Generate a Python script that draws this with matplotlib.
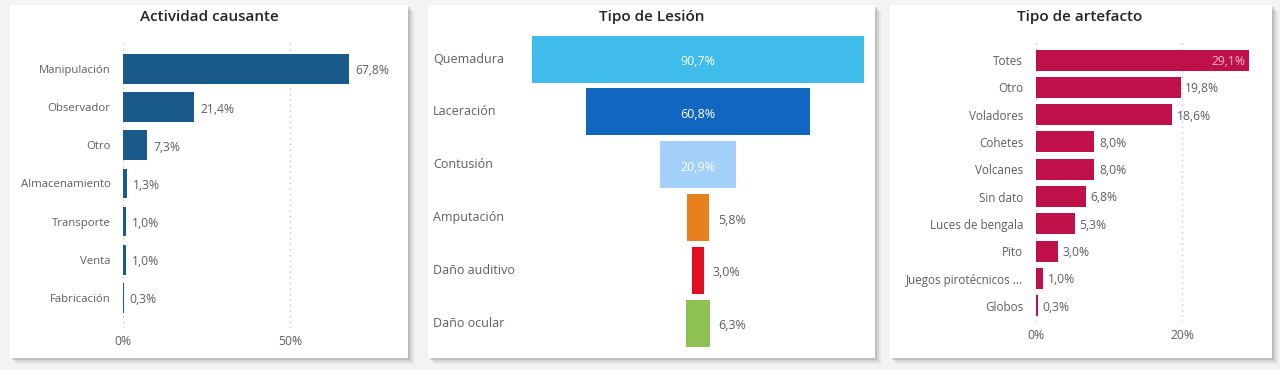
import matplotlib
matplotlib.use("Agg")
import matplotlib.pyplot as plt
from matplotlib.patches import Rectangle
from matplotlib.transforms import blended_transform_factory

plt.rcParams["font.family"] = ["Open Sans", "DejaVu Sans"]

# data
actividad_cats = ["Manipulación", "Observador", "Otro", "Almacenamiento",
                  "Transporte", "Venta", "Fabricación"]
actividad_vals = [67.8, 21.4, 7.3, 1.3, 1.0, 1.0, 0.3]

lesion_cats = ["Quemadura", "Laceración", "Contusión", "Amputación",
               "Daño auditivo", "Daño ocular"]
lesion_vals = [90.7, 60.8, 20.9, 5.8, 3.0, 6.3]
lesion_colors = ["#41bdeb", "#1167c0", "#a3d1fa", "#e8801e", "#e0101e", "#8dc152"]

artefacto_cats = ["Totes", "Otro", "Voladores", "Cohetes", "Volcanes", "Sin dato",
                  "Luces de bengala", "Pito", "Juegos pirotécnicos ...", "Globos"]
artefacto_vals = [29.1, 19.8, 18.6, 8.0, 8.0, 6.8, 5.3, 3.0, 1.0, 0.3]

W, H = 1280, 370
TITLE_COLOR = "#252423"
LABEL_COLOR = "#605e5c"
GRID_COLOR = "#c8c6c4"


def fmt(v):
    return f"{v:.1f}%".replace(".", ",")


def px_axes(fig, x0, y0, x1, y1):
    # pixel box (top-left origin) -> figure axes
    ax = fig.add_axes([x0 / W, 1 - y1 / H, (x1 - x0) / W, (y1 - y0) / H])
    ax.set_zorder(2)
    ax.patch.set_alpha(0)
    return ax


def card(fig, x0, y0, x1, y1):
    for off, a in [(6, 0.10), (4, 0.15), (2, 0.25)]:
        fig.patches.append(Rectangle(((x0 + off) / W, 1 - (y1 + off) / H),
                                     (x1 - x0) / W, (y1 - y0) / H,
                                     transform=fig.transFigure, facecolor="#7a7a7a",
                                     alpha=a, edgecolor="none", zorder=-2))
    fig.patches.append(Rectangle((x0 / W, 1 - y1 / H), (x1 - x0) / W, (y1 - y0) / H,
                                 transform=fig.transFigure, facecolor="white",
                                 edgecolor="none", zorder=-1))


def hbar_panel(ax, cats, vals, color, ticks, xmax, ylims, height, cat_size,
               inside_first=False):
    y = list(range(len(cats)))
    ax.barh(y, vals, height=height, color=color, zorder=2)
    for t in ticks:
        ax.axvline(t, color=GRID_COLOR, linestyle=(0, (1, 3)), linewidth=1, zorder=1)
    ax.set_xlim(0, xmax)
    ax.set_ylim(*ylims)
    ax.set_yticks(y)
    ax.set_yticklabels(cats, fontsize=cat_size, color=LABEL_COLOR)
    ax.set_xticks(ticks)
    ax.set_xticklabels([f"{t}%" for t in ticks], fontsize=8.7, color=LABEL_COLOR)
    ax.tick_params(axis="y", length=0, pad=9)
    ax.tick_params(axis="x", length=0, pad=5)
    for s in ax.spines.values():
        s.set_visible(False)
    for i, v in enumerate(vals):
        if inside_first and i == 0:
            ax.text(v - xmax * 0.015, i + 0.05, fmt(v), ha="right", va="center",
                    fontsize=8.7, color="#f4b8cc", zorder=3)
        else:
            ax.text(v + xmax * 0.02, i + 0.05, fmt(v), ha="left", va="center",
                    fontsize=8.7, color=LABEL_COLOR, zorder=3)


fig = plt.figure(figsize=(W / 100, H / 100), dpi=100, facecolor="#f3f3f3")

card(fig, 10, 5, 408, 358)
card(fig, 428, 5, 875, 358)
card(fig, 890, 5, 1272, 358)

# panel 1
ax1 = px_axes(fig, 123, 40, 400, 328)
hbar_panel(ax1, actividad_cats, actividad_vals, "#1a5a8a", [0, 50],
           (400 - 123) / 3.34, (6.79, -0.76), 0.78, 8.2)
fig.text(209 / W, 1 - 17 / H, "Actividad causante", ha="center", va="center",
         fontsize=11, fontweight="semibold", color=TITLE_COLOR, zorder=5)

# panel 2 (funnel)
ax2 = px_axes(fig, 428, 30, 875, 350)
unit = 3.668
ax2.set_xlim((428 - 698) / unit, (875 - 698) / unit)
ax2.set_ylim(5.51, -0.55)
for i, (v, c) in enumerate(zip(lesion_vals, lesion_colors)):
    ax2.barh(i, v, left=-v / 2, height=0.89, color=c, zorder=2)
    if v > 15:
        ax2.text(0, i + 0.05, fmt(v), ha="center", va="center", fontsize=9,
                 color="white", zorder=3)
    else:
        ax2.text(v / 2 + 2.5, i + 0.05, fmt(v), ha="left", va="center", fontsize=9,
                 color=LABEL_COLOR, zorder=3)
tr = blended_transform_factory(ax2.transAxes, ax2.transData)
for i, c in enumerate(lesion_cats):
    ax2.text(5 / 447, i, c, transform=tr, ha="left", va="center", fontsize=9,
             color=LABEL_COLOR)
ax2.axis("off")
fig.text(652 / W, 1 - 17 / H, "Tipo de Lesión", ha="center", va="center",
         fontsize=11, fontweight="semibold", color=TITLE_COLOR, zorder=5)

# panel 3
ax3 = px_axes(fig, 1035.7, 42, 1265, 322)
hbar_panel(ax3, artefacto_cats, artefacto_vals, "#c0104a", [0, 20],
           (1265 - 1035.7) / 7.33, (9.59, -0.66), 0.77, 8.4, inside_first=True)
fig.text(1080 / W, 1 - 17 / H, "Tipo de artefacto", ha="center", va="center",
         fontsize=11, fontweight="semibold", color=TITLE_COLOR, zorder=5)

fig.savefig("out.png", dpi=100, facecolor=fig.get_facecolor())
